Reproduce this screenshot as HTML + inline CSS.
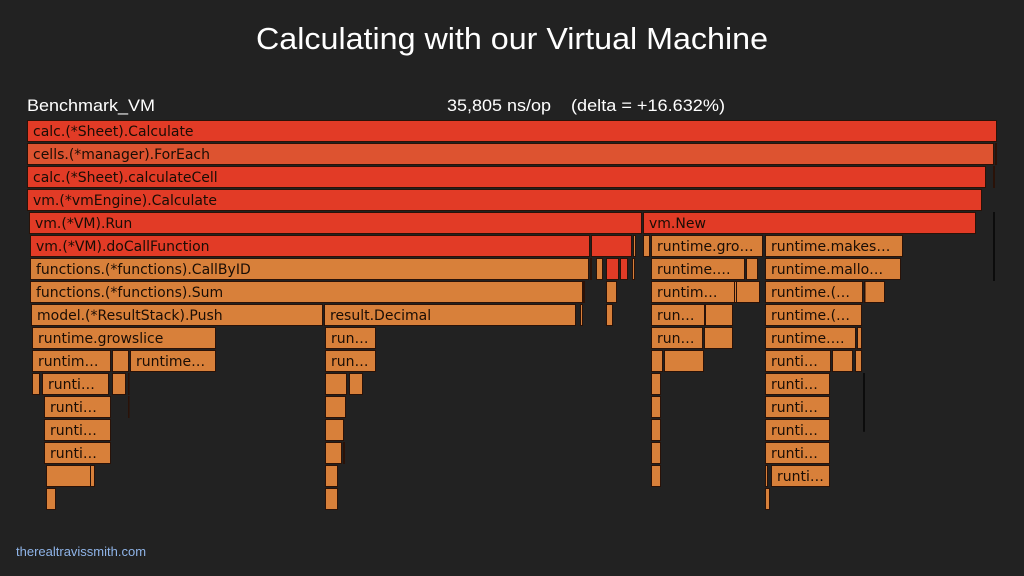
<!DOCTYPE html>
<html><head><meta charset="utf-8">
<style>
html,body{margin:0;padding:0;background:#222222;}
svg{display:block;}
</style></head>
<body>
<svg id="chart" width="1024" height="576" viewBox="0 0 1024 576" xmlns="http://www.w3.org/2000/svg">
  <rect width="1024" height="576" fill="#222222"/>
  <text x="256" y="49" font-family="Liberation Sans, sans-serif" font-size="31" fill="#ffffff" textLength="512" lengthAdjust="spacingAndGlyphs">Calculating with our Virtual Machine</text>
  <text x="27" y="111" font-family="Liberation Sans, sans-serif" font-size="17" fill="#ffffff" textLength="128" lengthAdjust="spacingAndGlyphs">Benchmark_VM</text>
  <text x="447" y="111" font-family="Liberation Sans, sans-serif" font-size="17" fill="#ffffff" textLength="104" lengthAdjust="spacingAndGlyphs">35,805 ns/op</text>
  <text x="571" y="111" font-family="Liberation Sans, sans-serif" font-size="17" fill="#ffffff" textLength="154" lengthAdjust="spacingAndGlyphs">(delta = +16.632%)</text>
  <g id="frames"></g>
  <text x="16" y="556" font-family="Liberation Sans, sans-serif" font-size="13" fill="#8fb4e8">therealtravissmith.com</text>
</svg>
<script>
// Flame graph data: depth (stack level), start sample, width in samples, label, colour class
const depths = [0,1,1,2,2,3,4,4,4,5,5,5,5,5,5,6,6,6,6,6,6,6,6,6,7,7,7,7,7,7,7,7,8,8,8,8,8,8,8,9,9,9,9,9,9,10,10,10,10,10,10,10,10,10,11,11,11,11,11,11,11,11,12,12,12,12,12,13,13,13,13,14,14,14,14,14,15,15,15,15,15,15,16,16,16];
const starts = [0,0,968,0,966,0,2,616,966,3,564,606,616,624,738,3,563,569,579,593,605,624,719,738,3,556,579,624,707,738,837,837,4,297,553,579,624,678,738,5,298,624,677,738,830,5,85,103,298,624,637,738,805,828,5,15,85,101,298,322,624,738,17,101,298,624,738,17,298,624,738,17,298,316,624,738,19,63,298,624,738,744,19,298,738];
const widths = [970,967,2,959,2,955,613,333,2,560,41,3,7,112,138,559,2,7,13,8,3,94,12,136,553,2,11,109,3,98,21,1,292,252,3,7,54,28,97,184,51,52,29,91,5,79,17,86,51,12,40,66,21,7,8,67,14,1,22,14,10,65,67,1,21,10,65,67,19,10,65,67,17,2,10,65,49,5,13,10,3,59,10,13,5];
const labels = ["calc.(*Sheet).Calculate","cells.(*manager).ForEach","","calc.(*Sheet).calculateCell","","vm.(*vmEngine).Calculate","vm.(*VM).Run","vm.New","","vm.(*VM).doCallFunction","","","","runtime.gro…","runtime.makes…","functions.(*functions).CallByID","","","","","","runtime.…","","runtime.mallo…","functions.(*functions).Sum","","","runtim…","","runtime.(…","","","model.(*ResultStack).Push","result.Decimal","","","run…","","runtime.(…","runtime.growslice","run…","run…","","runtime.…","","runtim…","","runtime…","run…","","","runti…","","","","runti…","","","","","","runti…","runti…","","","","runti…","runti…","","","runti…","runti…","","","","runti…","","","","","","runti…","","",""];
const colorKeys = ["r","o2","o","r","o","r","r","r","o","r","r","o","o","o","o","o","o","o","r","r","o","o","o","o","o","o","o","o","o","o","o","o","o","o","o","o","o","o","o","o","o","o","o","o","o","o","o","o","o","o","o","o","o","o","o","o","o","o","o","o","o","o","o","o","o","o","o","o","o","o","o","o","o","o","o","o","o","o","o","o","o","o","o","o","o"];
const palette = {r:"#e23b26", o:"#d8803a", o2:"#dd5330"};
const x0 = 27, y0 = 120, rowPitch = 23, rowH = 22, scale = 1.0;
function xScale(v){ return x0 + v*scale; }
function yScale(d){ return y0 + d*rowPitch; }
const g = document.getElementById('frames');
const NS = "http://www.w3.org/2000/svg";
for (let i=0;i<depths.length;i++){
  const fx = xScale(starts[i]);
  const fw = widths[i]*scale;
  const fy = yScale(depths[i]);
  const grp = document.createElementNS(NS,'g');
  
  
  const r = document.createElementNS(NS,'rect');
  r.setAttribute('x', fx+0.5); r.setAttribute('y', fy+0.5);
  r.setAttribute('width', Math.max(fw-1,0.5)); r.setAttribute('height', rowH-1);
  r.setAttribute('fill', palette[colorKeys[i]]);
  r.setAttribute('stroke', '#2a1208'); r.setAttribute('stroke-width','1');
  
  
  grp.appendChild(r);
  if (labels[i]) {
    const t = document.createElementNS(NS,'text');
    t.setAttribute('x', fx+6); t.setAttribute('y', fy+16);
    t.setAttribute('font-family','DejaVu Sans, Liberation Sans, sans-serif');
    t.setAttribute('font-size','14'); t.setAttribute('fill','#1a0d05');
    t.textContent = labels[i];
    
    
    grp.appendChild(t);
  }
  g.appendChild(grp);
}
// thin dark marker lines seen in the reference
const lineX = [966, 836];
const lineTop = [4, 11];
const lineBot = [7, 22];
for (let i=0;i<lineX.length;i++){
  const l = document.createElementNS(NS,'rect');
  l.setAttribute('x', xScale(lineX[i])); l.setAttribute('y', yScale(lineTop[i]));
  l.setAttribute('width', 2); l.setAttribute('height', (lineBot[i]-lineTop[i])*rowPitch/ (i==0?1:4.3));
  l.setAttribute('fill', '#0c0c0c');
  
  
  g.appendChild(l);
}
</script>
</body></html>
